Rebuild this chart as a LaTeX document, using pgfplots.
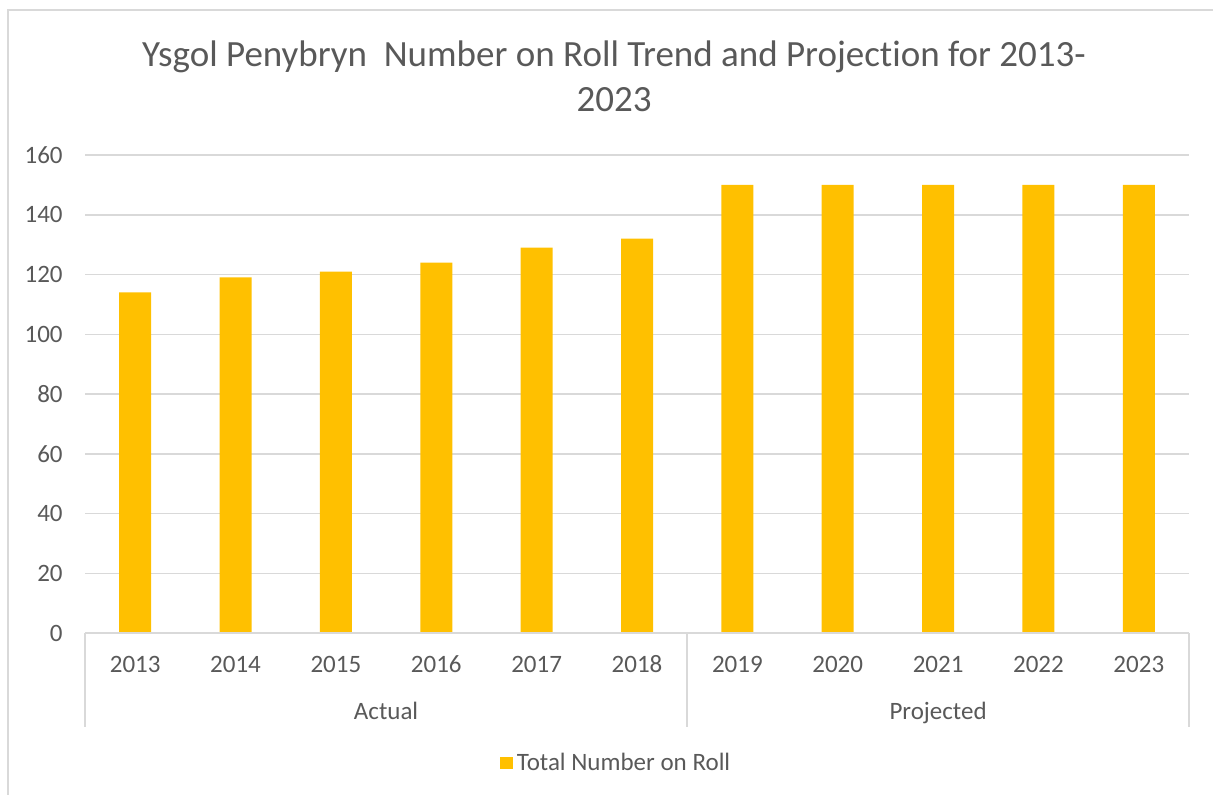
\documentclass[border=0pt]{standalone}
\usepackage{pgfplots}
\pgfplotsset{compat=1.18}
\usepackage{fontspec}
\setmainfont{Carlito}[Ligatures=NoCommon, RawFeature={-liga;-clig;-dlig}]
\definecolor{barc}{HTML}{FFC000}
\definecolor{textc}{HTML}{595959}
\definecolor{gridc}{HTML}{D9D9D9}
\begin{document}
\begin{tikzpicture}
\useasboundingbox (-42.5pt,-80.5pt) rectangle (564pt,316.5pt);
\draw[gridc, line width=0.75pt] (-38.5pt,-81pt) -- (-38.5pt,311.5pt) -- (565pt,311.5pt);
\begin{axis}[
  at={(0,0)}, anchor=south west,
  scale only axis, width=552pt, height=239pt,
  xmin=-0.5, xmax=10.5, ymin=0, ymax=160,
  ytick={0,20,...,160},
  xtick={0,...,10},
  xticklabels={2013,2014,2015,2016,2017,2018,2019,2020,2021,2022,2023},
  major tick length=0pt,
  axis line style={draw=none},
  ymajorgrids, grid style={gridc, line width=0.75pt},
  /pgf/number format/assume math mode=true,
  ticklabel style={font=\fontsize{12.5}{15}\selectfont, text=textc},
  xticklabel style={anchor=center, inner sep=0pt, yshift=-15.5pt},
  yticklabel style={anchor=east, inner sep=0pt, xshift=-11pt},
  clip=false,
  legend style={at={(0.482,-0.272)}, anchor=center, draw=none, fill=none,
    font=\fontsize{12.5}{15}\selectfont, text=textc, inner sep=0pt},
  legend image code/.code={\fill[barc] (0pt,-3.2pt) rectangle (6.4pt,3.2pt);},
]
\addplot[ybar, bar width=16pt, fill=barc, draw=none] coordinates {
(0,114) (1,119) (2,121) (3,124) (4,129) (5,132) (6,150) (7,150) (8,150) (9,150) (10,150)};
\addlegendentry{Total Number on Roll}
\draw[gridc, line width=0.75pt] (axis cs:-0.5,0) -- (axis cs:10.5,0);
\draw[gridc, line width=0.75pt] (axis cs:-0.5,0) -- ([yshift=-47pt]axis cs:-0.5,0);
\draw[gridc, line width=0.75pt] (axis cs:5.5,0) -- ([yshift=-47pt]axis cs:5.5,0);
\draw[gridc, line width=0.75pt] (axis cs:10.5,0) -- ([yshift=-47pt]axis cs:10.5,0);
\node[font=\fontsize{12.5}{15}\selectfont, text=textc, anchor=base, inner sep=0pt] at ([yshift=-43pt]axis cs:2.5,0) {Actual};
\node[font=\fontsize{12.5}{15}\selectfont, text=textc, anchor=base, inner sep=0pt] at ([yshift=-43pt]axis cs:8,0) {Projected};
\end{axis}
\node[font=\fontsize{18.5}{21.5}\selectfont, text=textc] at (264.5pt,288pt) {Ysgol Penybryn\ \ Number on Roll Trend and Projec\kern0pt tion for 2013-};
\node[font=\fontsize{18.5}{21.5}\selectfont, text=textc] at (264.5pt,266.5pt) {2023};
\end{tikzpicture}
\end{document}
